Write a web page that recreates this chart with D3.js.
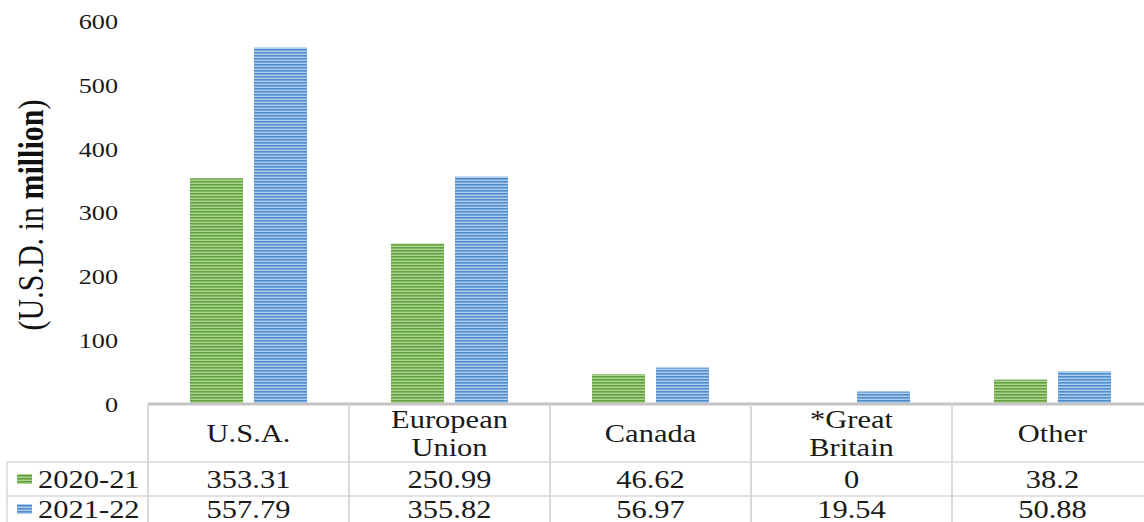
<!DOCTYPE html>
<html><head><meta charset="utf-8">
<script src="https://cdn.jsdelivr.net/npm/d3@7"></script>
<style>body{margin:0;background:#fff}svg{display:block}</style>
</head><body>
<svg id="c" width="1144" height="522"></svg>
<script>
const categories = ["U.S.A.", "European|Union", "Canada", "*Great|Britain", "Other"];
const seriesNames = ["2020-21", "2021-22"];
const values2020 = [353.31, 250.99, 46.62, 0, 38.2];
const values2021 = [557.79, 355.82, 56.97, 19.54, 50.88];
const valueLabels2020 = ["353.31", "250.99", "46.62", "0", "38.2"];
const valueLabels2021 = ["557.79", "355.82", "56.97", "19.54", "50.88"];
const yTicks = [0, 100, 200, 300, 400, 500, 600];

const svg = d3.select("#c");
const SX = 1.22;
const FONT = "Liberation Serif, Times New Roman, serif";

const defs = svg.append("defs");
function stripes(id, bg, fg) {
  const p = defs.append("pattern").attr("id", id).attr("patternUnits", "userSpaceOnUse")
    .attr("width", 8).attr("height", 3);
  p.append("rect").attr("width", 8).attr("height", 3).attr("fill", bg);
  p.append("rect").attr("y", 1).attr("width", 8).attr("height", 1.6).attr("fill", fg);
}
stripes("pg", "#aed393", "#62a23c");
stripes("pb", "#aecdee", "#4f8dcb");
const fills = ["url(#pg)", "url(#pb)"];

const x0 = d3.scaleBand().domain(categories).range([148, 1153]).padding(0);
const x1 = d3.scaleBand().domain(seriesNames).range([42, 159]).paddingInner(0.172).paddingOuter(0);
const y = d3.scaleLinear().domain([0, 600]).range([404, 20.6]);

function txt(g, x, yy, s, size, anchor, weight) {
  return g.append("text")
    .attr("transform", `translate(${x},${yy}) scale(${SX},1)`)
    .attr("text-anchor", anchor || "middle")
    .attr("dominant-baseline", "central")
    .attr("font-family", FONT).attr("font-size", size)
    .attr("font-weight", weight || "normal")
    .attr("fill", "#1a1a1a").text(s);
}

// y tick labels
const gy = svg.append("g");
yTicks.forEach(t => txt(gy, 118, y(t) + 1, d3.format("d")(t), 21.5, "end"));

// y title
const title = svg.append("text")
  .attr("transform", `translate(30,215) scale(1.2,1) rotate(-90)`)
  .attr("text-anchor", "middle").attr("dominant-baseline", "central")
  .attr("font-family", FONT).attr("font-size", 30).attr("fill", "#111");
title.append("tspan").text("(U.S.D. in ");
title.append("tspan").attr("font-weight", "bold").text("million");
title.append("tspan").text(")");

// bars
const data = categories.map((c, i) => ({c, v: [values2020[i], values2021[i]]}));
const gb = svg.append("g");
data.forEach(d => {
  seriesNames.forEach((s, j) => {
    if (d.v[j] <= 0) return;
    gb.append("rect")
      .attr("x", x0(d.c) + x1(s)).attr("width", x1.bandwidth())
      .attr("y", y(d.v[j])).attr("height", y(0) - y(d.v[j]))
      .attr("fill", fills[j]);
  });
});

// table grid
const grid = "#d9d9d9";
const gt = svg.append("g");
const row1 = 462, row2 = 496, bottom = 522;
gt.append("line").attr("x1", 148).attr("x2", 1153).attr("y1", y(0)).attr("y2", y(0))
  .attr("stroke", "#c4c4c4").attr("stroke-width", 3);
[row1, row2].forEach(r => gt.append("line").attr("x1", 7).attr("x2", 1153)
  .attr("y1", r).attr("y2", r).attr("stroke", grid).attr("stroke-width", 1.5));
gt.append("line").attr("x1", 7).attr("x2", 7).attr("y1", row1).attr("y2", bottom)
  .attr("stroke", grid).attr("stroke-width", 1.5);
categories.forEach(c => {
  gt.append("line").attr("x1", x0(c)).attr("x2", x0(c)).attr("y1", y(0)).attr("y2", bottom)
    .attr("stroke", grid).attr("stroke-width", 2);
});

// header labels
categories.forEach(c => {
  const cx = x0(c) + x0.bandwidth() / 2;
  const lines = c.split("|");
  if (lines.length === 1) txt(gt, cx, 433, lines[0], 25);
  else { txt(gt, cx, 419, lines[0], 25); txt(gt, cx, 447, lines[1], 25); }
});

// value rows
const rowsY = [479, 509];
const labelSets = [valueLabels2020, valueLabels2021];
categories.forEach((c, i) => {
  const cx = x0(c) + x0.bandwidth() / 2;
  labelSets.forEach((ls, j) => txt(gt, cx, rowsY[j], ls[i], 25));
});

// legend
seriesNames.forEach((s, j) => {
  gt.append("rect").attr("x", 17).attr("y", rowsY[j] - 5).attr("width", 15).attr("height", 10)
    .attr("fill", fills[j]);
  txt(gt, 38, rowsY[j], s, 25, "start");
});
</script>
</body></html>
